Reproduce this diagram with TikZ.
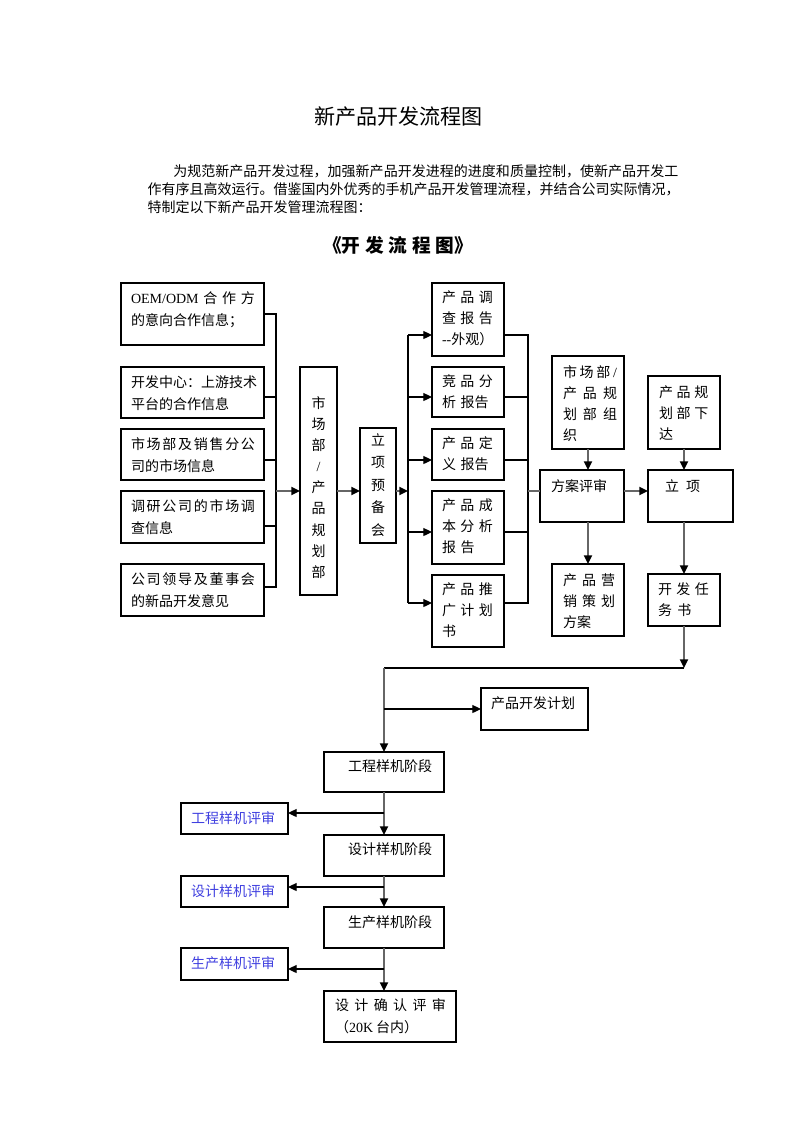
\documentclass[tikz,border=0pt]{standalone}
\usepackage{fontspec}
\setmainfont{Liberation Serif}
\newfontfamily\cjk{Noto Sans CJK SC}
\newfontfamily\lat{Liberation Serif}
\usetikzlibrary{arrows.meta,fit}
\definecolor{revblue}{RGB}{64,64,224}
\makeatletter
\newcommand\sprd[2]{\makebox[#1][s]{\let\sp@sep\relax\@tfor\sp@c:=#2\do{\sp@sep\sp@c\let\sp@sep\hfill}}}
\makeatother
\begin{document}
\begin{tikzpicture}[x=0.75pt,y=-0.75pt,
  every node/.style={inner sep=0pt, outer sep=0pt, font=\cjk\fontsize{10.5pt}{15.75pt}\selectfont, text=black},
  bx/.style={draw, line width=1.1pt},
  tx/.style={anchor=north west, align=left},
  lft/.style={tx, font=\cjk\fontsize{10.5pt}{16.2pt}\selectfont},
  rev/.style={tx, text=revblue},
  ln/.style={draw=black, line width=0.9pt},
  gl/.style={draw=black!60, line width=1.5pt},
  arr/.style={-{Triangle[length=6.5pt,width=6pt,color=black]}},
]
\fill[white] (0,0) rectangle (793,1122);
\useasboundingbox (0,0) rectangle (793,1122);

% ---------- header texts ----------
\node[font=\cjk\fontsize{15.8pt}{18pt}\selectfont] (title) at (398.5,117) {新产品开发流程图};
\node[tx, font=\cjk\fontsize{10.5pt}{13.7pt}\selectfont] (para) at (147.6,164.5)
 {\hspace*{19.3pt}\sprd{378.75pt}{为规范新产品开发过程，加强新产品开发进程的进度和质量控制，使新产品开发工}\\
  作有序且高效运行。借鉴国内外优秀的手机产品开发管理流程，并结合公司实际情况，\\
  特制定以下新产品开发管理流程图：};
\node[font=\cjk\bfseries\fontsize{14pt}{16pt}\selectfont] (sub) at (398,245)
 {\makebox[112.5pt]{《开\hfill 发\hfill 流\hfill 程\hfill 图》}};

% ---------- boxes ----------
\node[bx, fit={(121,283)(264,345)}] (b1) {};
\node[bx, fit={(121,367)(264,418)}] (b2) {};
\node[bx, fit={(121,429)(264,480)}] (b3) {};
\node[bx, fit={(121,491)(264,543)}] (b4) {};
\node[bx, fit={(121,564)(264,616)}] (b5) {};
\node[bx, fit={(300,367)(337,595)}] (m) {};
\node[bx, fit={(360,428)(396,543)}] (n) {};
\node[bx, fit={(432,283)(504,356)}] (r1) {};
\node[bx, fit={(432,367)(504,417)}] (r2) {};
\node[bx, fit={(432,429)(504,480)}] (r3) {};
\node[bx, fit={(432,491)(504,564)}] (r4) {};
\node[bx, fit={(432,575)(504,647)}] (r5) {};
\node[bx, fit={(552,356)(624,449)}] (S) {};
\node[bx, fit={(540,470)(624,522)}] (F) {};
\node[bx, fit={(552,564)(624,636)}] (P) {};
\node[bx, fit={(648,376)(720,449)}] (G) {};
\node[bx, fit={(648,470)(733,522)}] (L) {};
\node[bx, fit={(648,574)(720,626)}] (K) {};
\node[bx, fit={(481,688)(588,730)}] (D) {};
\node[bx, fit={(324,752)(444,792)}] (E1) {};
\node[bx, fit={(324,835)(444,876)}] (E2) {};
\node[bx, fit={(324,907)(444,948)}] (E3) {};
\node[bx, fit={(324,991)(456,1042)}] (E4) {};
\node[bx, fit={(181,803)(288,834)}] (V1) {};
\node[bx, fit={(181,876)(288,907)}] (V2) {};
\node[bx, fit={(181,948)(288,980)}] (V3) {};

% ---------- box texts ----------
\node[lft] (b1t) at ([shift={(10,9)}]b1.north west) {\sprd{93pt}{{{\lat OEM/ODM}}合作方}\\的意向合作信息；};
\node[lft] (b2t) at ([shift={(10,9)}]b2.north west) {开发中心：上游技术\\平台的合作信息};
\node[lft] (b3t) at ([shift={(10,9)}]b3.north west) {\sprd{93pt}{市场部及销售分公}\\司的市场信息};
\node[lft] (b4t) at ([shift={(10,9)}]b4.north west) {\sprd{93pt}{调研公司的市场调}\\查信息};
\node[lft] (b5t) at ([shift={(10,9)}]b5.north west) {\sprd{93pt}{公司领导及董事会}\\的新品开发意见};

\node[align=center, font=\cjk\fontsize{10.5pt}{15.8pt}\selectfont] (mt) at (318.5,487.5) {市\\场\\部\\{\lat /}\\产\\品\\规\\划\\部};
\node[align=center, font=\cjk\fontsize{10.5pt}{16.9pt}\selectfont] (nt) at (378,485) {立\\项\\预\\备\\会};

\node[tx] (r1t) at ([shift={(10,8)}]r1.north west) {\sprd{38.25pt}{产品调}\\\sprd{38.25pt}{查报告}\\{\lat -{}-}外观）};
\node[tx] (r2t) at ([shift={(10,8)}]r2.north west) {\sprd{38.25pt}{竞品分}\\析\hspace{3.4pt}报告};
\node[tx] (r3t) at ([shift={(10,8)}]r3.north west) {\sprd{38.25pt}{产品定}\\义\hspace{3.4pt}报告};
\node[tx] (r4t) at ([shift={(10,8)}]r4.north west) {\sprd{38.25pt}{产品成}\\\sprd{38.25pt}{本分析}\\报\hspace{3.4pt}告};
\node[tx] (r5t) at ([shift={(10,8)}]r5.north west) {\sprd{38.25pt}{产品推}\\\sprd{38.25pt}{广计划}\\书};

\node[tx] (St) at ([shift={(11,10)}]S.north west) {\sprd{40.5pt}{市场部{{\lat /}}}\\\sprd{40.5pt}{产品规}\\\sprd{40.5pt}{划部组}\\织};
\node[tx] (Gt) at ([shift={(11,10)}]G.north west) {\sprd{37pt}{产品规}\\\sprd{37pt}{划部下}\\达};
\node[tx] (Pt) at ([shift={(11,10)}]P.north west) {\sprd{39pt}{产品营}\\\sprd{39pt}{销策划}\\方案};
\node[tx] (Kt) at ([shift={(10,9)}]K.north west) {\sprd{38.25pt}{开发任}\\务\hspace{4pt}书};
\node[tx] (Ft) at ([shift={(11,10)}]F.north west) {方案评审};
\node[tx] (Lt) at ([shift={(17,10)}]L.north west) {立\hspace{5.25pt}项};
\node[tx] (Dt) at ([shift={(10,9)}]D.north west) {产品开发计划};
\node[tx] (E1t) at ([shift={(24,8)}]E1.north west) {工程样机阶段};
\node[tx] (E2t) at ([shift={(24,8)}]E2.north west) {设计样机阶段};
\node[tx] (E3t) at ([shift={(24,9)}]E3.north west) {生产样机阶段};
\node[tx, font=\cjk\fontsize{10.5pt}{16.5pt}\selectfont] (E4t) at ([shift={(11,8)}]E4.north west) {\sprd{83.25pt}{设计确认评审}\\（{\lat 20K} 台内）};
\node[rev] (V1t) at ([shift={(10,9)}]V1.north west) {工程样机评审};
\node[rev] (V2t) at ([shift={(10,9)}]V2.north west) {设计样机评审};
\node[rev] (V3t) at ([shift={(10,9)}]V3.north west) {生产样机评审};

% ---------- junction coordinates ----------
\coordinate (Ya) at (276,314);
\coordinate (Yb) at (276,397);
\coordinate (Yc) at (276,460);
\coordinate (Yd) at (276,526);
\coordinate (Ye) at (276,587);
\coordinate (Ym) at (276,491);
\coordinate (Z1) at (408,335);
\coordinate (Z2) at (408,397);
\coordinate (Z3) at (408,460);
\coordinate (Z4) at (408,532);
\coordinate (Z5) at (408,603);
\coordinate (Zm) at (408,491);
\coordinate (W1) at (528,335);
\coordinate (W2) at (528,397);
\coordinate (W3) at (528,460);
\coordinate (W4) at (528,532);
\coordinate (W5) at (528,603);
\coordinate (Wm) at (528,491);
\coordinate (T) at (684,668);
\coordinate (Q1) at (384,813);
\coordinate (Q2) at (384,887);
\coordinate (Q3) at (384,969);

% ---------- connectors ----------
\draw[ln] (b1.east |- Ya) -- (Ya) -- (Ye) -- (b5.east |- Ye);
\draw[ln] (b2.east |- Yb) -- (Yb);
\draw[ln] (b3.east |- Yc) -- (Yc);
\draw[ln] (b4.east |- Yd) -- (Yd);
\draw[gl,arr] (Ym) -- (m.west |- Ym);
\draw[gl,arr] (m.east |- Ym) -- (n.west |- Ym);
\draw[gl,arr] (n.east |- Zm) -- (Zm);

\draw[ln] (Z1) -- (Z5);
\draw[ln,arr] (Z1) -- (r1.west |- Z1);
\draw[ln,arr] (Z2) -- (r2.west |- Z2);
\draw[ln,arr] (Z3) -- (r3.west |- Z3);
\draw[ln,arr] (Z4) -- (r4.west |- Z4);
\draw[ln,arr] (Z5) -- (r5.west |- Z5);

\draw[ln] (r1.east |- W1) -- (W1) -- (W5) -- (r5.east |- W5);
\draw[ln] (r2.east |- W2) -- (W2);
\draw[ln] (r3.east |- W3) -- (W3);
\draw[ln] (r4.east |- W4) -- (W4);
\draw[gl] (Wm) -- (F.west |- Wm);
\draw[gl,arr] (F.east |- Wm) -- (L.west |- Wm);

\draw[gl,arr] (S.south) -- (S.south |- F.north);
\draw[gl,arr] (P.north |- F.south) -- (P.north);
\draw[gl,arr] (G.south) -- (G.south |- L.north);
\draw[gl,arr] (K.north |- L.south) -- (K.north);
\draw[gl,arr] (K.south) -- (T);
\draw[ln] (T) -- (T -| E1.north);
\draw[gl,arr] (T -| E1.north) -- (E1.north);
\draw[ln,arr] (E1.north |- D.west) -- (D.west);
\draw[gl,arr] (E1.south) -- (E2.north);
\draw[ln,arr] (Q1) -- (V1.east |- Q1);
\draw[gl,arr] (E2.south) -- (E3.north);
\draw[ln,arr] (Q2) -- (V2.east |- Q2);
\draw[gl,arr] (E3.south) -- (E3.south |- E4.north);
\draw[ln,arr] (Q3) -- (V3.east |- Q3);
\end{tikzpicture}
\end{document}
